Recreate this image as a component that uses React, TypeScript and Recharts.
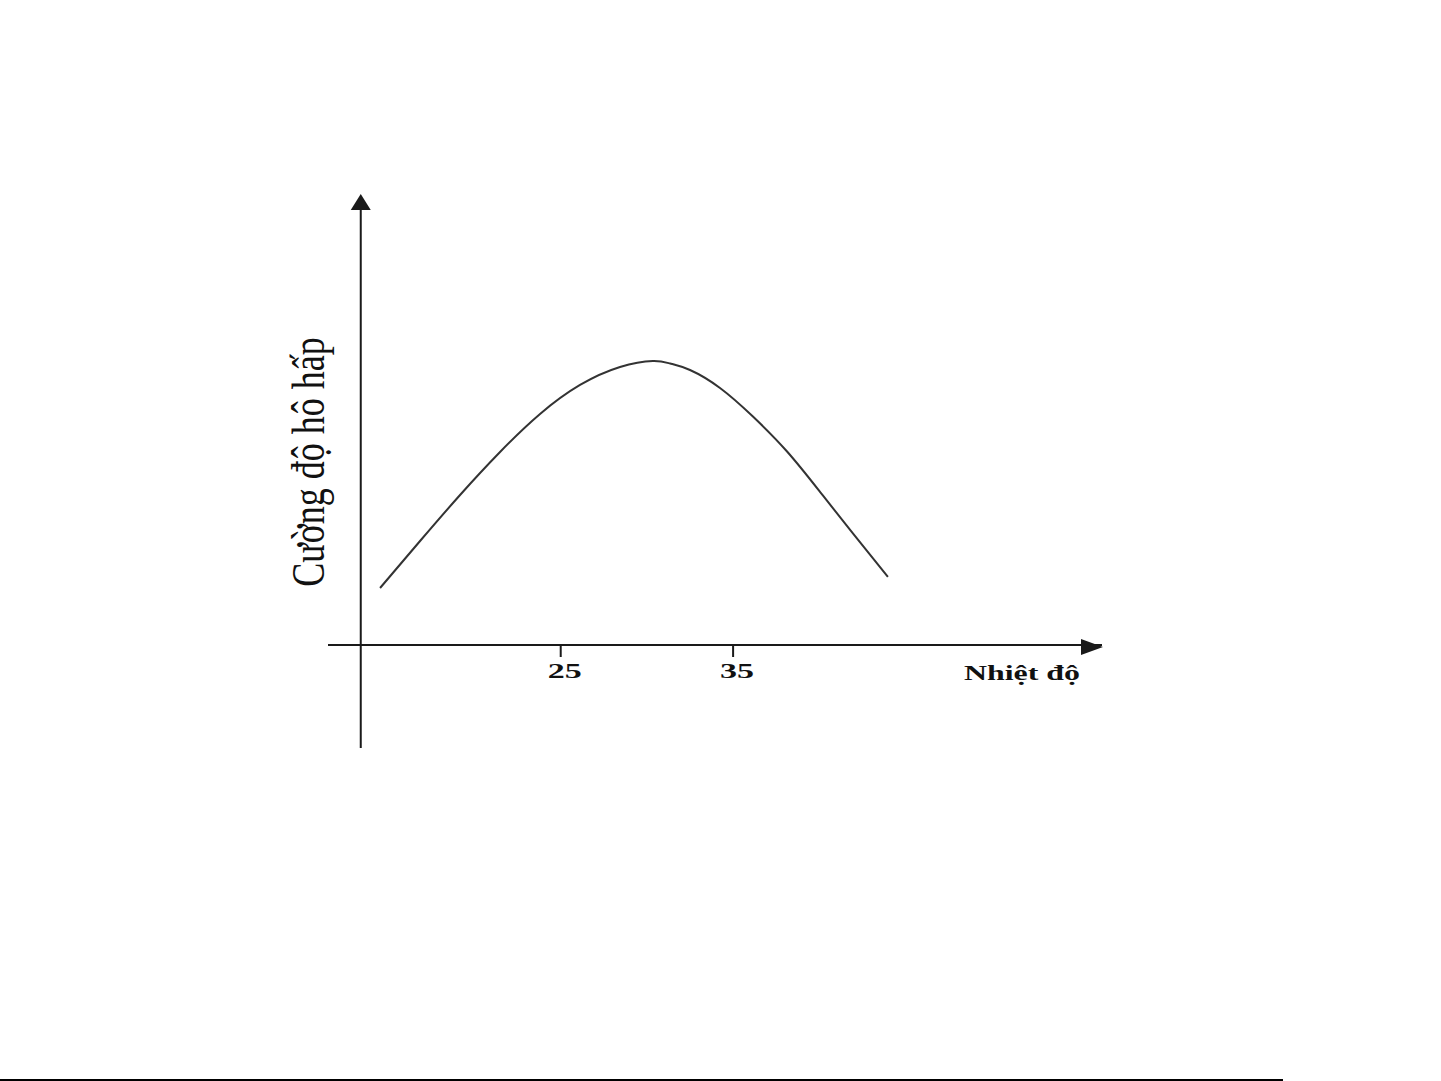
import React from 'react';
import { LineChart, Line, XAxis, YAxis, ReferenceLine, ReferenceDot } from 'recharts';

// Temperature (x) and respiration intensity (y, arbitrary units)
const temps = [14.52, 16.84, 19.16, 21.48, 23.8, 26.12, 28.44, 30.35, 31.35, 32.5, 34.24, 36.15, 38.13, 40.04, 41.95, 43.98];
const rates = [12.72, 23.21, 33.48, 43.08, 51.56, 58.04, 62.05, 63.39, 62.83, 61.38, 57.37, 51.0, 43.2, 34.2, 24.9, 15.18];
const xTicks = [25, 35];
const xDomain: [number, number] = [11.5, 56.4];
const yDomain: [number, number] = [0, 100];
const yAxisX = 13.4;
const yAxisBottom = -23;
const xLabel = 'Nhiệt độ';
const yLabel = 'Cường độ hô hấp';

const data = temps.map((t, i) => ({ t, r: rates[i] }));

const AXIS = '#1a1a1a';
const FONT = '"Liberation Serif", "Times New Roman", serif';

const Tick = (props: any) => {
  const { x, y, payload } = props;
  return (
    <text
      transform={`translate(${x + 4}, ${y + 19}) scale(1.7, 1)`}
      textAnchor="middle"
      fontFamily={FONT}
      fontWeight="bold"
      fontSize={20}
      fill="#111"
    >
      {payload.value}
    </text>
  );
};

const UpArrow = (p: any) => (
  <polygon points={`${p.cx},${p.cy - 3} ${p.cx - 10},${p.cy + 13} ${p.cx + 10},${p.cy + 13}`} fill={AXIS} />
);
const RightArrow = (p: any) => (
  <polygon points={`${p.cx + 1},${p.cy + 2} ${p.cx - 21},${p.cy - 6} ${p.cx - 21},${p.cy + 10}`} fill={AXIS} />
);

export default function App() {
  return (
    <div style={{ position: 'absolute', left: 0, top: 0, width: 1441, height: 1081, background: '#fff' }}>
      <LineChart width={1441} height={1081} data={data} margin={{ top: 197, right: 339, bottom: 376, left: 328 }}>
        <XAxis
          type="number"
          dataKey="t"
          domain={xDomain}
          ticks={xTicks}
          interval={0}
          allowDataOverflow
          axisLine={{ stroke: AXIS, strokeWidth: 2 }}
          tickLine={{ stroke: AXIS, strokeWidth: 2 }}
          tickSize={12}
          height={60}
          tick={<Tick />}
        />
        <YAxis type="number" domain={yDomain} hide width={0} allowDataOverflow />
        <ReferenceLine
          segment={[{ x: yAxisX, y: yAxisBottom }, { x: yAxisX, y: yDomain[1] }]}
          stroke={AXIS}
          strokeWidth={2}
          ifOverflow="visible"
        />
        <ReferenceDot x={yAxisX} y={yDomain[1]} ifOverflow="visible" shape={UpArrow} />
        <ReferenceDot x={xDomain[1]} y={0} ifOverflow="visible" shape={RightArrow} />
        <Line
          type="natural"
          dataKey="r"
          stroke="#333"
          strokeWidth={2}
          dot={false}
          activeDot={false}
          isAnimationActive={false}
        />
        <text
          transform="translate(324, 462) rotate(-90) scale(1, 1.27)"
          textAnchor="middle"
          fontFamily={FONT}
          fontSize={36}
          fill="#111"
        >
          {yLabel}
        </text>
        <text
          transform="translate(1022, 680) scale(1.45, 1)"
          textAnchor="middle"
          fontFamily={FONT}
          fontWeight="bold"
          fontSize={22}
          fill="#111"
        >
          {xLabel}
        </text>
      </LineChart>
      <div style={{ position: 'absolute', left: 0, top: 1079, width: 1283, height: 2, background: '#000' }} />
    </div>
  );
}
